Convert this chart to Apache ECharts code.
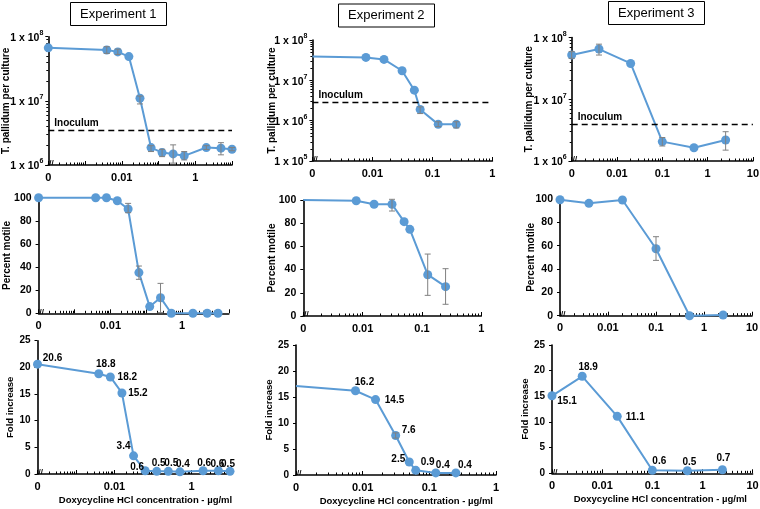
<!DOCTYPE html>
<html><head><meta charset="utf-8">
<script src="https://cdn.jsdelivr.net/npm/echarts@6/dist/echarts.min.js"></script>
<style>html,body{margin:0;padding:0;background:#fff}#c{width:760px;height:509px}</style>
</head><body><div id="c"></div>
<script>
// ---------- DATA ----------
// Doxycycline HCl concentration, µg/ml (0 = no drug, drawn at the axis break)
const exp1Conc = [0, 0.0039, 0.0078, 0.0156, 0.03125, 0.0625, 0.125, 0.25, 0.5, 2, 5, 10];
const exp2Conc = [0, 0.0078, 0.0156, 0.03125, 0.05, 0.0625, 0.125, 0.25];
const exp3Conc = [0, 0.004, 0.02, 0.1, 0.5, 2.5];

// T. pallidum per culture
const exp1Count     = [6.7e7, 6.2e7, 5.8e7, 4.9e7, 1.1e7, 1.87e6, 1.56e6, 1.49e6, 1.39e6, 1.87e6, 1.83e6, 1.76e6];
const exp1CountLow  = [null, 5.5e7, 5.3e7, null, 8.95e6, 1.62e6, 1.35e6, 1.07e6, 1.2e6, 1.75e6, 1.44e6, 1.67e6];
const exp1CountHigh = [null, 6.98e7, 6.4e7, null, 1.19e7, 2.0e6, 1.76e6, 2.06e6, 1.62e6, 2.0e6, 2.23e6, 1.87e6];
const exp2Count     = [3.9e7, 3.7e7, 3.3e7, 1.73e7, 5.7e6, 1.9e6, 8.1e5, 8.1e5];
const exp2CountLow  = [null, null, null, null, null, 1.5e6, 7.1e5, 6.6e5];
const exp2CountHigh = [null, null, null, null, null, 2.2e6, 9.4e5, 9.4e5];
const exp3Count     = [5.2e7, 6.5e7, 3.8e7, 2.06e6, 1.64e6, 2.19e6];
const exp3CountLow  = [4.6e7, 5.2e7, null, 1.75e6, null, 1.5e6];
const exp3CountHigh = [5.9e7, 7.8e7, null, 2.4e6, null, 2.98e6];
const inoculum = [3.5e6, 2.9e6, 4.0e6];

// Percent motile
const exp1Motile     = [100, 100, 100, 97.4, 90.2, 35.2, 5.8, 13.5, 0, 0, 0, 0];
const exp1MotileLow  = [null, null, null, null, 87.0, 29.4, null, 0.6, null, null, null, null];
const exp1MotileHigh = [null, null, null, null, 95.1, 40.9, null, 25.9, null, null, null, null];
const exp2Motile     = [100, 99.4, 96.3, 96.3, 81.3, 74.7, 35.6, 25.3];
const exp2MotileLow  = [null, null, null, 90.5, null, null, 17.8, 10.1];
const exp2MotileHigh = [null, null, null, 100.6, null, null, 53.4, 40.8];
const exp3Motile     = [99.4, 96.3, 99.1, 57.4, 0, 0.6];
const exp3MotileLow  = [null, null, null, 47.4, null, null];
const exp3MotileHigh = [null, null, null, 67.7, null, null];

// Fold increase
const exp1Fold = [20.6, 18.8, 18.2, 15.2, 3.4, 0.6, 0.5, 0.5, 0.4, 0.6, 0.6, 0.5];
const exp2Fold = [17.1, 16.2, 14.5, 7.6, 2.5, 0.9, 0.4, 0.4];
const exp2FoldLow  = [null, null, null, 7.1, null, null, null, null];
const exp2FoldHigh = [null, null, null, 8.1, null, null, null, null];
const exp3Fold = [15.1, 18.9, 11.1, 0.6, 0.5, 0.7];

const titles = ['Experiment 1', 'Experiment 2', 'Experiment 3'];
const yNames = ['T. pallidum per culture', 'Percent motile', 'Fold increase'];
const xName = 'Doxycycline HCl concentration - µg/ml';

// ---------- LAYOUT / STYLE ----------
const FONT = '"Liberation Sans", Arial, sans-serif';
const BLUE = '#5B9BD5';
const GREY = '#808080';

// label placement for fold-increase values (offset of label centre from point, px)
const foldLabelOffsets = [
  [[15,-6],[7,-10],[17,0],[16,0],[-10,-10],[-8,-4],[2,-8],[3,-8],[3,-8],[1,-8],[-1,-7],[-2,-7]],
  [null,[9,-9],[19,1],[13,-5],[-11,-3],[12,-8],[7,-8],[9,-8]],
  [[15,5],[6,-9],[18,1],[7,-9],[2,-8],[1,-11]]
];

const experiments = [
  {conc: exp1Conc, xMin: 1e-4, evenOnly: true, hideZero: false,
   rows: [
     {vals: exp1Count, lo: exp1CountLow, hi: exp1CountHigh},
     {vals: exp1Motile, lo: exp1MotileLow, hi: exp1MotileHigh},
     {vals: exp1Fold, lo: null, hi: null}]},
  {conc: exp2Conc, xMin: 1e-3, evenOnly: false, hideZero: true,
   rows: [
     {vals: exp2Count, lo: exp2CountLow, hi: exp2CountHigh},
     {vals: exp2Motile, lo: exp2MotileLow, hi: exp2MotileHigh},
     {vals: exp2Fold, lo: exp2FoldLow, hi: exp2FoldHigh}]},
  {conc: exp3Conc, xMin: 1e-3, evenOnly: false, hideZero: false,
   rows: [
     {vals: exp3Count, lo: exp3CountLow, hi: exp3CountHigh},
     {vals: exp3Motile, lo: exp3MotileLow, hi: exp3MotileHigh},
     {vals: exp3Fold, lo: null, hi: null}]}
];

// grid boxes [left, top, width, height, xMax] per panel [exp][row]
const boxes = [
  [[48.3, 36.7, 183.7, 128.3, 10], [38.6, 197.7, 190.2, 115.6, 20], [37.5, 340.7, 192.5, 133.3, 10]],
  [[312.4, 40, 180, 121, 1], [303.3, 200, 178, 116, 1], [296, 345, 200, 130, 1]],
  [[571.7, 37.5, 181.2, 123.5, 10], [560, 199, 192, 116.7, 10], [552, 345, 200.6, 128.3, 10]]
];
const yGaps = [[37, 26.5, 22], [35.5, 26.5, 22], [37, 24, 22]];
const nameShift = [23.5, 20.6, 16];
const titleBoxes = [[70, 2], [338, 3.5], [608, 1]];
const yCfg = [
  {type: 'log', min: null, max: 1e8},
  {type: 'value', min: 0, max: 100, interval: 20},
  {type: 'value', min: 0, max: 25, interval: 5}
];
const countMin = [1e6, 1e5, 1e6];

function xFormatter(min, evenOnly) {
  return function (v) {
    const lg = Math.log10(v), e = Math.round(lg);
    if (Math.abs(lg - e) > 0.01) return '';
    if (Math.abs(v - min) / min < 0.01) return '0';
    if (evenOnly && e % 2 !== 0) return '';
    return e < 0 ? Math.pow(10, e).toFixed(-e) : String(Math.round(Math.pow(10, e)));
  };
}
function logYFormatter(v) {
  const e = Math.round(Math.log10(v));
  return '{b|1 x 10}{s|' + e + '}';
}

const grids = [], xAxes = [], yAxes = [], series = [], graphics = [];
let k = 0;
experiments.forEach(function (ex, ei) {
  ex.rows.forEach(function (row, ri) {
    const b = boxes[ei][ri];
    grids.push({left: b[0], top: b[1], width: b[2], height: b[3], containLabel: false, outerBoundsMode: 'none'});
    const xa = {
      type: 'log', logBase: 10, gridIndex: k, min: ex.xMin, max: b[4],
      axisLine: {show: true, lineStyle: {color: '#000', width: 1.6}},
      axisTick: {show: true, inside: true, length: 4, lineStyle: {color: '#000', width: 1}},
      minorTick: {show: true, splitNumber: 9, length: 2.5, lineStyle: {color: '#000', width: 1}},
      splitLine: {show: false}, minorSplitLine: {show: false},
      axisLabel: {show: true, margin: 7, fontSize: 11, fontWeight: 'bold', color: '#000', fontFamily: FONT,
                  showMinLabel: true, showMaxLabel: true, formatter: xFormatter(ex.xMin, ex.evenOnly)}
    };
    if (ri === 2) {
      xa.name = xName; xa.nameLocation = 'middle'; xa.nameGap = 21; xa.nameMoveOverlap = false;
      xa.nameTextStyle = {fontSize: 9.5, fontWeight: 'bold', color: '#000', fontFamily: FONT,
                          padding: [0, 0, 0, nameShift[ei]]};
    }
    xAxes.push(xa);
    const yc = yCfg[ri];
    const ya = {
      type: yc.type, gridIndex: k, min: ri === 0 ? countMin[ei] : yc.min, max: yc.max,
      name: yNames[ri], nameLocation: 'middle', nameGap: yGaps[ei][ri], nameRotate: 90,
      nameMoveOverlap: false,
      nameTextStyle: {fontSize: ri === 2 ? 9.5 : 10, fontWeight: 'bold', color: '#000', fontFamily: FONT},
      axisLine: {show: true, lineStyle: {color: '#000', width: 1.6}},
      axisTick: {show: true, inside: false, length: 3, lineStyle: {color: '#000', width: 1}},
      splitLine: {show: false},
      axisLabel: {show: true, margin: 7, color: '#000', fontFamily: FONT, fontWeight: 'bold',
                  fontSize: ri === 1 ? 10.5 : 10}
    };
    if (yc.interval) ya.interval = yc.interval;
    if (ri === 0) {
      ya.logBase = 10;
      ya.minorTick = {show: true, splitNumber: 9, length: 2, lineStyle: {color: '#000'}};
      ya.axisLabel.formatter = logYFormatter;
      ya.axisLabel.margin = 5;
      ya.axisLabel.rich = {
        b: {fontSize: 10.5, fontWeight: 'bold', fontFamily: FONT, color: '#000', lineHeight: 14, verticalAlign: 'bottom'},
        s: {fontSize: 7, fontWeight: 'bold', fontFamily: FONT, color: '#000', lineHeight: 9, verticalAlign: 'top'}
      };
    }
    yAxes.push(ya);

    const data = ex.conc.map(function (c, i) {
      const item = {value: [c === 0 ? ex.xMin : c, row.vals[i]]};
      if (ex.hideZero && c === 0) item.symbol = 'none';
      if (ri === 2) {
        const off = foldLabelOffsets[ei][i];
        item.label = off ? {show: true, position: 'inside', offset: off} : {show: false};
      }
      return item;
    });
    const s = {
      type: 'line', xAxisIndex: k, yAxisIndex: k, data: data, clip: false,
      symbol: 'circle', symbolSize: 9, z: 3,
      lineStyle: {color: BLUE, width: 2}, itemStyle: {color: BLUE},
      label: {show: ri === 2, color: '#000', fontSize: 10, fontWeight: 'bold', fontFamily: FONT,
              formatter: function (p) { return p.value[1].toFixed(1); }},
      emphasis: {disabled: true}, animation: false
    };
    if (ri === 0) {
      s.markLine = {
        silent: true, symbol: 'none', animation: false,
        lineStyle: {color: '#000', type: [6, 4], width: 1.4},
        label: {show: true, position: 'insideStartTop', formatter: 'Inoculum', distance: [6, 2],
                color: '#000', fontSize: 10, fontWeight: 'bold', fontFamily: FONT},
        data: [{yAxis: inoculum[ei]}]
      };
    }
    series.push(s);

    if (row.lo) {
      const eb = [];
      ex.conc.forEach(function (c, i) {
        if (row.lo[i] != null) eb.push([c === 0 ? ex.xMin : c, row.lo[i], row.hi[i]]);
      });
      series.push({
        type: 'custom', xAxisIndex: k, yAxisIndex: k, z: 4, clip: false, animation: false,
        data: eb, encode: {x: 0, y: [1, 2]},
        renderItem: function (params, api) {
          const x = api.value(0);
          const p1 = api.coord([x, api.value(2)]);
          const p2 = api.coord([x, api.value(1)]);
          const st = {stroke: GREY, lineWidth: 1};
          return {type: 'group', children: [
            {type: 'line', shape: {x1: p1[0], y1: p1[1], x2: p2[0], y2: p2[1]}, style: st},
            {type: 'line', shape: {x1: p1[0] - 3, y1: p1[1], x2: p1[0] + 3, y2: p1[1]}, style: st},
            {type: 'line', shape: {x1: p2[0] - 3, y1: p2[1], x2: p2[0] + 3, y2: p2[1]}, style: st}
          ]};
        }
      });
    }
    // axis break mark
    graphics.push({type: 'text', left: b[0] + 1, top: b[1] + b[3] - 6, z: 10, silent: true,
      style: {text: '//', font: 'bold 8px ' + FONT, fill: '#000'}});
    k++;
  });
});

const titleOpts = titles.map(function (t, i) {
  return {text: t, left: titleBoxes[i][0], top: titleBoxes[i][1], borderColor: '#000', borderWidth: 1,
          padding: [5, 10], textStyle: {fontSize: 13, fontWeight: 'normal', color: '#000', fontFamily: FONT, lineHeight: 14}};
});

const chart = echarts.init(document.getElementById('c'), null, {renderer: 'canvas'});
chart.setOption({
  animation: false,
  backgroundColor: '#fff',
  title: titleOpts,
  grid: grids, xAxis: xAxes, yAxis: yAxes, series: series,
  graphic: graphics
});
</script></body></html>
